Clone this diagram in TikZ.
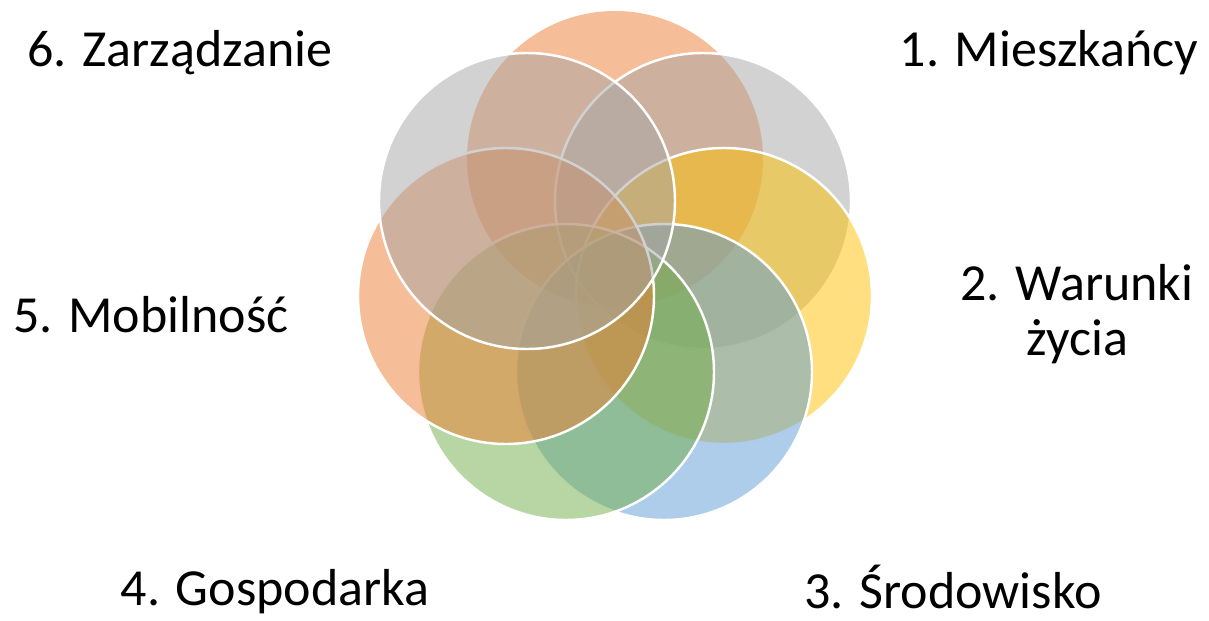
\documentclass[tikz,border=0pt]{standalone}
\usepackage{fontspec}
\setmainfont{Carlito}
\definecolor{acorange}{HTML}{ED7D31}
\definecolor{acgray}{HTML}{A5A5A5}
\definecolor{acgold}{HTML}{FFC000}
\definecolor{acblue}{HTML}{5B9BD5}
\definecolor{acgreen}{HTML}{70AD47}
\begin{document}
\begin{tikzpicture}[
		font=\fontsize{14.8}{15.6}\selectfont
	]
	\tikzset{
		mycircle/.style = {circle, minimum size=2.96cm, inner sep=0pt, draw=white, line width=0.7pt, fill opacity=0.5},
		mytext/.style = {anchor=base, align=center, inner sep=0pt},
	}
	\useasboundingbox (0,0) rectangle (12.09,6.2);
	%
	\node[mycircle, fill=acorange, draw=none] at (6.15,4.61) (or1) {};
	\node[mycircle, fill=acgray] at (7.03,4.19) (gy1) {};
	\node[mycircle, fill=acgold] at (7.24,3.24) (yl) {};
	\node[mycircle, fill=acblue] at (6.64,2.48) (bl) {};
	\node[mycircle, fill=acgreen] at (5.66,2.48) (gn) {};
	\node[mycircle, fill=acorange] at (5.06,3.24) (or2) {};
	\node[mycircle, fill=acgray] at (5.27,4.19) (gy2) {};
	%
	\node[mytext] at (10.49,5.53) (t1) {1. Mieszkańcy};
	\node[mytext] at (10.77,2.65) (t2) {2. Warunki\\życia};
	\node[mytext] at (9.53,0.12) (t3) {3. Środowisko};
	\node[mytext] at (2.75,0.15) (t4) {4. Gospodarka};
	\node[mytext] at (1.51,2.88) (t5) {5. Mobilność};
	\node[mytext] at (1.80,5.53) (t6) {6. Zarządzanie};
\end{tikzpicture}
\end{document}
